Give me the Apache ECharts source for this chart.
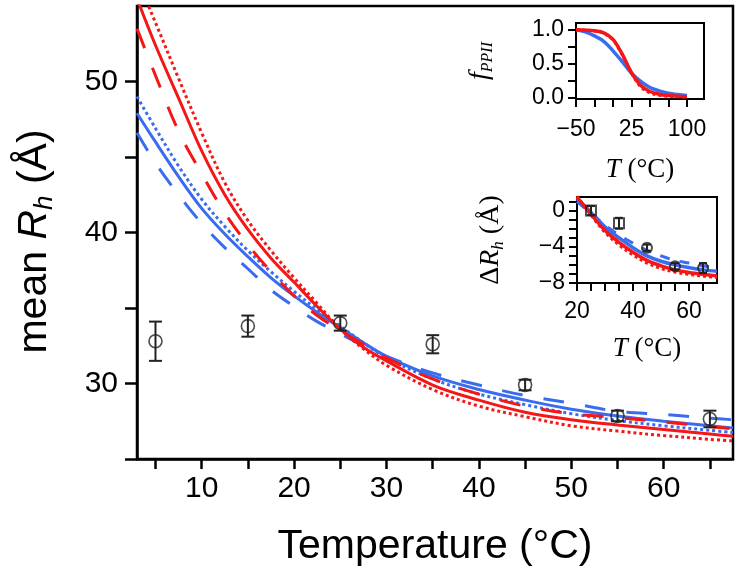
<!DOCTYPE html>
<html><head><meta charset="utf-8">
<script src="https://cdn.jsdelivr.net/npm/echarts@6/dist/echarts.min.js"></script>
<style>html,body{margin:0;padding:0;background:#fff}#c{width:744px;height:576px}</style>
</head><body><div id="c"></div>
<script>
// ---- main panel: fitted curves (Temperature, mean Rh)
const T_fit      = [3, 5, 7.5, 10, 12.5, 15, 17.5, 20, 22.5, 25, 27.5, 30, 35, 40, 45, 50, 55, 60, 65, 67.5];
const redSolid   = [55.5, 52.4, 48.9, 45.4, 42.5, 40.2, 38.3, 36.7, 35.1, 33.6, 32.4, 31.5, 29.9, 28.9, 28.1, 27.6, 27.25, 26.95, 26.65, 26.5];
const redDashed  = [53.5, 50.4, 46.7, 43.9, 41.3, 39.2, 37.4, 35.8, 34.5, 33.5, 32.6, 31.7, 30.3, 29.3, 28.5, 28.0, 27.75, 27.45, 27.15, 27.0];
const redDotted  = [56.8, 53.9, 50.2, 46.6, 43.3, 40.8, 38.8, 37.0, 35.3, 33.6, 32.3, 31.2, 29.6, 28.5, 27.8, 27.2, 26.85, 26.55, 26.3, 26.2];
const blueSolid  = [47.9, 46.0, 43.7, 41.6, 39.9, 38.4, 37.0, 35.8, 34.7, 33.7, 32.7, 31.8, 30.5, 29.6, 28.9, 28.3, 27.85, 27.5, 27.2, 27.05];
const blueDashed = [46.6, 44.6, 42.5, 40.6, 39.0, 37.6, 36.2, 35.1, 34.1, 33.3, 32.5, 31.8, 30.7, 29.9, 29.2, 28.7, 28.15, 27.95, 27.7, 27.6];
const blueDotted = [49.0, 46.9, 44.4, 42.2, 40.4, 38.8, 37.4, 36.1, 34.9, 33.8, 32.7, 31.7, 30.3, 29.3, 28.6, 28.0, 27.55, 27.2, 26.9, 26.75];
// ---- main panel: measured points
const T_data  = [5, 15, 25, 35, 45, 55, 65];
const Rh_mean = [32.8, 33.8, 34.0, 32.6, 29.9, 27.85, 27.65];
const Rh_err  = [1.3, 0.7, 0.5, 0.6, 0.35, 0.35, 0.55];
// ---- main panel ticks
const xTicks  = [5, 10, 15, 20, 25, 30, 35, 40, 45, 50, 55, 60, 65];
const xLabels = [10, 20, 30, 40, 50, 60];
const yTicks  = [25, 30, 35, 40, 45, 50];
const yLabels = [30, 40, 50];
// ---- inset 1: fPPII vs T
const T_pp    = [-50, -37.5, -25, -12.5, 0, 12.5, 25, 37.5, 50, 62.5, 75, 87.5, 100];
const fRed    = [1.0, 0.995, 0.985, 0.955, 0.86, 0.64, 0.37, 0.18, 0.09, 0.05, 0.03, 0.02, 0.015];
const fRedDot = [1.0, 0.995, 0.98, 0.95, 0.85, 0.63, 0.36, 0.16, 0.07, 0.035, 0.02, 0.012, 0.01];
const fBlue   = [1.0, 0.97, 0.91, 0.83, 0.69, 0.53, 0.36, 0.24, 0.15, 0.1, 0.065, 0.045, 0.03];
const in1XTicks = [-50, -25, 0, 25, 50, 75, 100];
const in1XLabels = [-50, 25, 100];
const in1YTicks = [0, 0.25, 0.5, 0.75, 1];
const in1YLabels = [0, 0.5, 1];
// ---- inset 2: delta Rh vs T
const T_d       = [20, 25, 30, 35, 40, 45, 50, 55, 60, 65, 70];
const dRed      = [1.5, -0.4, -2.2, -3.5, -4.6, -5.5, -6.1, -6.55, -6.85, -7.05, -7.2];
const dRedDot   = [1.6, -0.5, -2.4, -3.8, -4.9, -5.8, -6.4, -6.8, -7.05, -7.25, -7.4];
const dBlue     = [1.3, -0.2, -1.8, -3.0, -4.1, -5.0, -5.6, -6.0, -6.3, -6.55, -6.7];
const dBlueDash = [1.0, -0.3, -1.6, -2.7, -3.6, -4.4, -5.0, -5.5, -5.8, -6.1, -6.3];
const T_dd   = [25, 35, 45, 55, 65];
const dMean  = [0.0, -1.4, -4.1, -6.15, -6.35];
const dErr   = [0.5, 0.6, 0.35, 0.35, 0.55];
const dSym   = ['rect', 'rect', 'circle', 'circle', 'circle'];
const in2XTicks = [20, 25, 30, 35, 40, 45, 50, 55, 60, 65];
const in2XLabels = [20, 40, 60];
const in2YTicks = [-8, -7, -6, -5, -4, -3, -2, -1, 0, 1];
const in2YLabels = [-8, -4, 0];

const RED = '#f51616', BLUE = '#3a6cf0', INK = '#222';
const SANS = 'Liberation Sans', SERIF = 'Liberation Serif';
const zip = (xs, ys) => xs.map((x, i) => [x, ys[i]]);
const minus = v => String(v).replace('-', '\u2212');

function line(data, color, type, xi, w) {
  return { type: 'line', xAxisIndex: xi, yAxisIndex: xi, data: data, smooth: 0.35, symbol: 'none',
    clip: true, silent: true, lineStyle: { color: color, width: w || 3, type: type } };
}
function errBars(data, xi, hw) {
  return { type: 'custom', xAxisIndex: xi, yAxisIndex: xi, data: data, silent: true, z: 5,
    renderItem: function (params, api) {
      const x = api.value(0), y = api.value(1), e = api.value(2);
      const top = api.coord([x, y + e]), bot = api.coord([x, y - e]);
      const st = { stroke: INK, lineWidth: 2 };
      return { type: 'group', children: [
        { type: 'line', shape: { x1: top[0], y1: top[1], x2: bot[0], y2: bot[1] }, style: st },
        { type: 'line', shape: { x1: top[0] - hw, y1: top[1], x2: top[0] + hw, y2: top[1] }, style: st },
        { type: 'line', shape: { x1: bot[0] - hw, y1: bot[1], x2: bot[0] + hw, y2: bot[1] }, style: st }
      ]};
    } };
}
function pts(data, xi, size, bw) {
  return { type: 'scatter', xAxisIndex: xi, yAxisIndex: xi, data: data, symbolSize: size,
    silent: true, z: 6, itemStyle: { color: 'rgba(0,0,0,0)', borderColor: INK, borderWidth: bw || 1.6 } };
}
function ax(o) {
  return Object.assign({
    type: 'value', splitLine: { show: false },
    axisLine: { show: true, onZero: false, lineStyle: { color: '#000', width: 2 } },
    nameTextStyle: { color: '#000' }
  }, o);
}
const insetTick = vals => ({ show: true, length: 8, customValues: vals, lineStyle: { color: '#000', width: 2 } });
const insetLab = (vals, fmt, m) => ({ customValues: vals, formatter: fmt, color: '#000', fontFamily: SANS, fontSize: 23, margin: m });
const serifName = (fs, sub) => ({ color: '#000', fontFamily: SERIF, fontSize: fs, lineHeight: fs + 4,
  rich: { i: { fontFamily: SERIF, fontStyle: 'italic', fontSize: fs, lineHeight: fs + 4 },
          s: { fontFamily: SERIF, fontStyle: 'italic', fontSize: sub, lineHeight: sub + 2, verticalAlign: 'bottom' } } });

const chart = echarts.init(document.getElementById('c'), null, { renderer: 'canvas' });
chart.setOption({
  backgroundColor: '#fff',
  animation: false,
  grid: [
    { left: 137, top: 6, width: 596, height: 453, show: true, borderColor: '#000', borderWidth: 2.5, backgroundColor: 'rgba(0,0,0,0)' },
    { left: 576, top: 23, width: 128, height: 76, show: true, borderColor: '#000', borderWidth: 2, backgroundColor: '#fff' },
    { left: 577, top: 197, width: 140, height: 86, show: true, borderColor: '#000', borderWidth: 2, backgroundColor: '#fff' }
  ],
  xAxis: [
    ax({ gridIndex: 0, min: 3, max: 67.5,
      axisLine: { show: true, onZero: false, lineStyle: { color: '#000', width: 2.5 } },
      axisTick: { show: true, length: 10, customValues: xTicks, lineStyle: { color: '#000', width: 2.5 } },
      axisLabel: { customValues: xLabels, color: '#000', fontFamily: SANS, fontSize: 30, margin: 15 },
      name: 'Temperature (°C)', nameLocation: 'middle', nameGap: 67,
      nameTextStyle: { color: '#000', fontFamily: SANS, fontSize: 41 } }),
    ax({ gridIndex: 1, min: -50, max: 123,
      axisTick: insetTick(in1XTicks), axisLabel: insetLab(in1XLabels, minus, 19),
      name: '{i|T} (°C)', nameLocation: 'middle', nameGap: 55, nameTextStyle: serifName(27, 16) }),
    ax({ gridIndex: 2, min: 20, max: 70,
      axisTick: insetTick(in2XTicks), axisLabel: insetLab(in2XLabels, null, 17),
      name: '{i|T} (°C)', nameLocation: 'middle', nameGap: 50, nameTextStyle: serifName(27, 16) })
  ],
  yAxis: [
    ax({ gridIndex: 0, min: 25, max: 55,
      axisLine: { show: true, onZero: false, lineStyle: { color: '#000', width: 2.5 } },
      axisTick: { show: true, length: 12, customValues: yTicks, lineStyle: { color: '#000', width: 2.5 } },
      axisLabel: { customValues: yLabels, color: '#000', fontFamily: SANS, fontSize: 30, margin: 19 },
      name: 'mean {i|R}{s|h} (Å)', nameLocation: 'middle', nameGap: 79,
      nameTextStyle: { color: '#000', fontFamily: SANS, fontSize: 41, lineHeight: 46, padding: [0, 18, 0, 0],
        rich: { i: { fontFamily: SANS, fontStyle: 'italic', fontSize: 41, lineHeight: 46 },
                s: { fontFamily: SANS, fontStyle: 'italic', fontSize: 26, lineHeight: 28, verticalAlign: 'bottom' } } } }),
    ax({ gridIndex: 1, min: -0.02, max: 1.1,
      axisTick: insetTick(in1YTicks), axisLabel: insetLab(in1YLabels, v => v.toFixed(1), 12),
      name: '{i|f}{s|PPII}', nameLocation: 'middle', nameGap: 80, nameTextStyle: serifName(28, 16) }),
    ax({ gridIndex: 2, min: -8, max: 1.5,
      axisTick: insetTick(in2YTicks), axisLabel: insetLab(in2YLabels, minus, 12),
      name: 'Δ{i|R}{s|h} (Å)', nameLocation: 'middle', nameGap: 70, nameTextStyle: serifName(28, 17) })
  ],
  series: [
    line(zip(T_fit, blueDashed), BLUE, [21, 21], 0),
    line(zip(T_fit, blueDotted), BLUE, [3, 3], 0),
    line(zip(T_fit, blueSolid), BLUE, 'solid', 0),
    line(zip(T_fit, redDashed), RED, [21, 21], 0),
    line(zip(T_fit, redDotted), RED, [3, 3], 0),
    line(zip(T_fit, redSolid), RED, 'solid', 0),
    errBars(T_data.map((t, i) => [t, Rh_mean[i], Rh_err[i]]), 0, 6.5),
    Object.assign(pts(zip(T_data, Rh_mean), 0, 13), { symbol: 'circle' }),

    line(zip(T_pp, fBlue), BLUE, 'solid', 1, 3.5),
    line(zip(T_pp, fRed), RED, 'solid', 1, 3.5),
    line(zip(T_pp, fRedDot), RED, [3, 3], 1, 3),

    line(zip(T_d, dBlueDash), BLUE, [10, 10], 2, 3),
    line(zip(T_d, dBlue), BLUE, 'solid', 2, 3.5),
    line(zip(T_d, dRedDot), RED, [3, 3], 2, 3),
    line(zip(T_d, dRed), RED, 'solid', 2, 3.5),
    errBars(T_dd.map((t, i) => [t, dMean[i], dErr[i]]), 2, 4),
    pts(T_dd.map((t, i) => ({ value: [t, dMean[i]], symbol: dSym[i] })), 2, 10, 2)
  ]
});
</script></body></html>
